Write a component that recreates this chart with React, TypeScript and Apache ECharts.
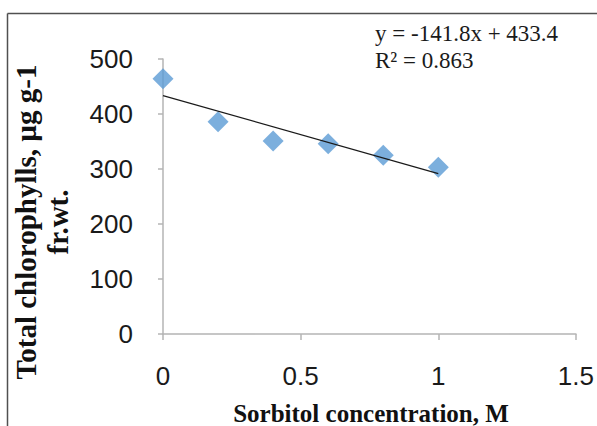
import React, { useEffect, useRef } from "react";
import * as echarts from "echarts";

// Sorbitol concentration (M) and total chlorophyll content (µg g-1 fr.wt.)
const concentration = [0, 0.2, 0.4, 0.6, 0.8, 1.0];
const chlorophyll = [464, 386, 351, 346, 325, 303];

// Linear trendline coefficients
const slope = -141.8;
const intercept = 433.4;
const rSquared = 0.863;

const xTicks = [0, 0.5, 1, 1.5];
const yTicks = [0, 100, 200, 300, 400, 500];

const W = 597;
const H = 426;

export default function App() {
  const ref = useRef<HTMLDivElement>(null);

  useEffect(() => {
    if (!ref.current) return;
    const chart = echarts.init(ref.current, null, { renderer: "svg", width: W, height: H });

    const xMin = concentration[0];
    const xMax = concentration[concentration.length - 1];
    const trend = [
      [xMin, intercept + slope * xMin],
      [xMax, intercept + slope * xMax],
    ];

    const axisGray = "#b4b4b4";

    chart.setOption({
      animation: false,
      backgroundColor: "#ffffff",
      grid: { left: 163, right: 17, top: 59, bottom: 92 },
      xAxis: {
        type: "value",
        min: xTicks[0],
        max: xTicks[xTicks.length - 1],
        interval: 0.5,
        axisLine: { show: true, onZero: false, lineStyle: { color: axisGray, width: 1.5 } },
        axisTick: { show: true, length: 6, lineStyle: { color: axisGray, width: 1.5 } },
        splitLine: { show: false },
        axisLabel: {
          margin: 29,
          fontFamily: "Liberation Sans, Arial, sans-serif",
          fontSize: 26,
          color: "#1a1a1a",
        },
      },
      yAxis: {
        type: "value",
        min: yTicks[0],
        max: yTicks[yTicks.length - 1],
        interval: 100,
        axisLine: { show: true, lineStyle: { color: axisGray, width: 1.5 } },
        axisTick: { show: true, length: 5, lineStyle: { color: axisGray, width: 1.5 } },
        splitLine: { show: false },
        axisLabel: {
          margin: 30,
          fontFamily: "Liberation Sans, Arial, sans-serif",
          fontSize: 26,
          color: "#1a1a1a",
        },
      },
      series: [
        {
          type: "scatter",
          data: concentration.map((c, i) => [c, chlorophyll[i]]),
          symbol: "diamond",
          symbolSize: 21,
          itemStyle: { color: "#5b9bd5" },
          z: 2,
        },
        {
          type: "line",
          data: trend,
          symbol: "none",
          lineStyle: { color: "#1a1a1a", width: 1.2 },
          z: 3,
        },
      ],
      graphic: [
        {
          type: "line",
          shape: { x1: 7.5, y1: 13.5, x2: W, y2: 13.5 },
          style: { stroke: "#505050", lineWidth: 1.5 },
        },
        {
          type: "line",
          shape: { x1: 7.5, y1: 13.5, x2: 7.5, y2: H },
          style: { stroke: "#505050", lineWidth: 1.5 },
        },
        {
          type: "text",
          left: 375,
          top: 20,
          style: {
            text: `y = ${slope}x + ${intercept}\nR² = ${rSquared}`,
            fontFamily: "Liberation Serif, Times New Roman, serif",
            fontSize: 23,
            lineHeight: 27,
            fill: "#1a1a1a",
          },
        },
        {
          type: "text",
          x: 42,
          y: 222,
          rotation: Math.PI / 2,
          style: {
            text: "Total chlorophylls, µg g-1\nfr.wt.",
            fontFamily: "Liberation Serif, Times New Roman, serif",
            fontWeight: "bold",
            fontSize: 29,
            lineHeight: 32,
            align: "center",
            verticalAlign: "middle",
            fill: "#111111",
          },
        },
        {
          type: "text",
          x: 371,
          y: 413,
          style: {
            text: "Sorbitol concentration, M",
            fontFamily: "Liberation Serif, Times New Roman, serif",
            fontWeight: "bold",
            fontSize: 25,
            align: "center",
            verticalAlign: "middle",
            fill: "#111111",
          },
        },
      ],
    });

    return () => chart.dispose();
  }, []);

  return (
    <div
      ref={ref}
      style={{ position: "fixed", left: 0, top: 0, width: W, height: H, background: "#fff" }}
    />
  );
}
